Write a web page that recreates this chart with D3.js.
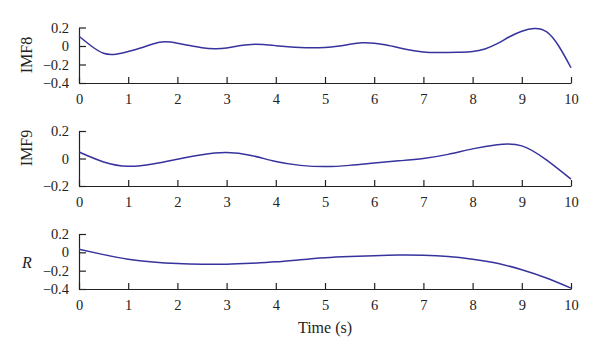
<!DOCTYPE html>
<html><head><meta charset="utf-8">
<script src="https://cdn.jsdelivr.net/npm/d3@7"></script>
<style>body{margin:0;background:#fff}svg{display:block}</style>
</head><body>
<svg id="c" width="600" height="358"></svg>
<script>
// ---- data ----
const xTicks = [0,1,2,3,4,5,6,7,8,9,10];
const imf8T = [0,0.25,0.5,0.75,1,1.25,1.5,1.75,2,2.25,2.5,2.75,3,3.25,3.5,3.75,4,4.25,4.5,4.75,5,5.25,5.5,5.75,6,6.25,6.5,6.75,7,7.25,7.5,7.75,8,8.25,8.5,8.75,9,9.25,9.5,9.75,10];
const imf8V = [0.105,0.0,-0.079,-0.088,-0.06,-0.022,0.022,0.045,0.03,0.005,-0.018,-0.03,-0.022,0.003,0.017,0.015,0.004,-0.008,-0.017,-0.02,-0.015,-0.002,0.018,0.034,0.03,0.01,-0.018,-0.045,-0.064,-0.071,-0.07,-0.067,-0.06,-0.032,0.025,0.1,0.16,0.19,0.155,0.0,-0.235];
const imf9T = [0,0.5,1,1.5,2,2.5,3,3.5,4,4.5,5,5.5,6,6.5,7,7.5,8,8.5,9,9.5,10];
const imf9V = [0.047,-0.025,-0.057,-0.04,-0.005,0.028,0.043,0.022,-0.022,-0.05,-0.059,-0.05,-0.033,-0.017,0.0,0.03,0.07,0.1,0.092,-0.01,-0.15];
const rT = [0,0.5,1,1.5,2,2.5,3,3.5,4,4.5,5,5.5,6,6.5,7,7.5,8,8.5,9,9.5,10];
const rV = [0.033,-0.025,-0.075,-0.105,-0.122,-0.13,-0.13,-0.12,-0.104,-0.08,-0.058,-0.045,-0.036,-0.03,-0.032,-0.045,-0.075,-0.12,-0.19,-0.28,-0.39];
const ticks8 = [0.2,0,-0.2,-0.4];
const ticks9 = [0.2,0,-0.2];
const ticksR = [0.2,0,-0.2,-0.4];
const labels = ["IMF8","IMF9","R"];
const xLabel = "Time (s)";

// ---- layout ----
const svg = d3.select("#c");
const x = d3.scaleLinear().domain([0,10]).range([79,571]);
const panels = [
  {t:imf8T, v:imf8V, ticks:ticks8, dom:[-0.4,0.2], top:27.5, bot:83, label:labels[0], italic:false, ly:55},
  {t:imf9T, v:imf9V, ticks:ticks9, dom:[-0.2,0.2], top:131, bot:186, label:labels[1], italic:false, ly:148},
  {t:rT, v:rV, ticks:ticksR, dom:[-0.4,0.2], top:234, bot:289, label:labels[2], italic:true, ly:263}
];
const fmt = d => d===0 ? "0" : (d<0 ? "\u2212"+Math.abs(d).toFixed(1) : d.toFixed(1));
const font = "Liberation Serif, DejaVu Serif, serif";

panels.forEach(p => {
  const y = d3.scaleLinear().domain(p.dom).range([p.bot,p.top]);
  const xa = svg.append("g").attr("transform",`translate(0,${p.bot})`)
    .call(d3.axisBottom(x).tickValues(xTicks).tickSizeInner(-6).tickSizeOuter(0).tickPadding(11).tickFormat(d3.format("d")));
  const ya = svg.append("g").attr("transform",`translate(${x(0)},0)`)
    .call(d3.axisLeft(y).tickValues(p.ticks).tickSizeInner(-7).tickSizeOuter(0).tickPadding(10).tickFormat(fmt));
  [xa,ya].forEach(a=>{
    a.attr("font-family",font).attr("font-size",14.5);
    a.selectAll("path,line").attr("stroke","#222").attr("stroke-width",1.2);
    a.selectAll("text").attr("font-family",font).attr("font-size",14.5).attr("fill","#222");
  });
  const line = d3.line().x((d,i)=>x(p.t[i])).y((d,i)=>y(p.v[i])).curve(d3.curveNatural);
  svg.append("path").datum(p.v).attr("d",line).attr("fill","none")
    .attr("stroke","#37339c").attr("stroke-width",1.5);
  const lt = svg.append("text").text(p.label).attr("fill","#222")
    .attr("font-family",font).attr("font-size",16).attr("text-anchor","middle");
  if (p.italic) {
    lt.attr("x",27).attr("y",p.ly+5).attr("font-style","italic");
  } else {
    lt.attr("transform",`translate(32,${p.ly}) rotate(-90)`);
  }
});

svg.append("text").text(xLabel).attr("x",325).attr("y",333).attr("text-anchor","middle")
  .attr("fill","#222").attr("font-family",font).attr("font-size",16);
</script>
</body></html>
